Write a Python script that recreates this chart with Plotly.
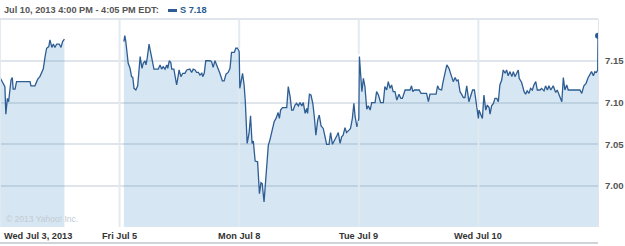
import plotly.graph_objects as go

# ---- data: minutes after the 9:30 open, price of S ----
d1_min = [0, 11, 16, 19, 24, 28, 36, 40, 43, 49, 54, 98, 101, 114, 123, 130, 136, 141, 147, 152,
          159, 163, 169, 174, 179, 185, 193, 199, 204, 210]
d1_val = [7.130, 7.121, 7.119, 7.086, 7.105, 7.101, 7.127, 7.130, 7.116, 7.116, 7.125, 7.125, 7.120,
          7.120, 7.128, 7.131, 7.136, 7.140, 7.155, 7.165, 7.167, 7.175, 7.166, 7.170, 7.166, 7.170,
          7.170, 7.166, 7.173, 7.176]

d2_min = [14, 17, 20, 23, 28, 34, 39, 43, 47, 53, 59, 67, 73, 77, 83, 86, 90, 96, 101, 107,
          112, 126, 132, 137, 142, 148, 154, 157, 162, 167, 170, 177, 181, 186, 191, 194, 200, 206, 213, 219,
          229, 235, 240, 246, 251, 257, 262, 268, 271, 276, 281, 295, 300, 305, 311, 317, 327, 335, 341, 347,
          354, 360, 365, 374, 379, 385, 390]
d2_val = [7.173, 7.180, 7.174, 7.165, 7.147, 7.141, 7.131, 7.130, 7.117, 7.115,
          7.120, 7.155, 7.141, 7.147, 7.150, 7.145, 7.153, 7.170, 7.159, 7.147,
          7.140, 7.140, 7.145, 7.140, 7.143, 7.140, 7.145, 7.141, 7.150, 7.148,
          7.140, 7.140, 7.130, 7.121, 7.132, 7.139, 7.131, 7.135, 7.135, 7.139,
          7.140, 7.136, 7.140, 7.139, 7.136, 7.136, 7.133, 7.135, 7.131, 7.135,
          7.150, 7.150, 7.149, 7.142, 7.150, 7.145, 7.135, 7.126, 7.126, 7.134,
          7.136, 7.141, 7.160, 7.160, 7.165, 7.165, 7.161]

d3_min = [2, 11, 16, 20, 26, 32, 37, 42, 46, 52, 60, 66, 71, 75, 81, 87, 95, 100, 108, 114,
          120, 127, 131, 135, 141, 155, 160, 166, 171, 176, 182, 187, 193, 198, 204, 209, 215, 220, 223, 229,
          234, 240, 245, 250, 256, 261, 267, 274, 280, 285, 293, 298, 304, 312, 318, 323, 329, 334, 339, 345,
          350, 358, 363, 369, 374, 378, 384, 387, 390]
d3_val = [7.117, 7.135, 7.121, 7.101, 7.051, 7.063, 7.084, 7.051, 7.054, 7.030,
          7.029, 6.991, 7.004, 7.003, 6.981, 7.015, 7.049, 7.055, 7.067, 7.077,
          7.081, 7.088, 7.081, 7.091, 7.094, 7.094, 7.119, 7.107, 7.091, 7.091,
          7.097, 7.099, 7.096, 7.100, 7.096, 7.100, 7.087, 7.093, 7.087, 7.110,
          7.109, 7.099, 7.083, 7.061, 7.079, 7.085, 7.072, 7.069, 7.059, 7.050,
          7.050, 7.064, 7.050, 7.055, 7.060, 7.064, 7.051, 7.059, 7.061, 7.070,
          7.064, 7.067, 7.069, 7.081, 7.099, 7.083, 7.071, 7.075, 7.081]

d4_min = [2, 10, 15, 20, 26, 31, 37, 42, 53, 58, 64, 71, 80, 85, 91, 96, 102, 107, 112, 118,
          124, 131, 137, 142, 151, 167, 172, 176, 181, 197, 203, 221, 227, 232, 252, 257, 262, 270, 275, 287,
          294, 303, 308, 314, 319, 324, 330, 335, 341, 346, 352, 359, 366, 371, 377, 382, 386, 390]
d4_val = [7.155, 7.113, 7.129, 7.119, 7.092, 7.096, 7.091, 7.100, 7.100, 7.113,
          7.109, 7.100, 7.100, 7.119, 7.115, 7.125, 7.117, 7.121, 7.113, 7.113,
          7.103, 7.110, 7.105, 7.105, 7.115, 7.115, 7.120, 7.113, 7.115, 7.115,
          7.111, 7.111, 7.101, 7.110, 7.110, 7.120, 7.116, 7.115, 7.125, 7.145,
          7.141, 7.129, 7.125, 7.130, 7.126, 7.127, 7.113, 7.110, 7.106, 7.106,
          7.120, 7.101, 7.109, 7.115, 7.115, 7.101, 7.096, 7.081]

d5_min = [2, 8, 13, 18, 24, 29, 35, 38, 43, 49, 54, 60, 65, 70, 76, 81, 87, 92, 97, 103, 109,
          114, 119, 125, 130, 133, 141, 149, 154, 159, 165, 170, 176, 181, 187, 192, 201, 206, 214, 219, 225,
          230, 236, 244, 252, 257, 264, 272, 277, 282, 288, 293, 331, 337, 344, 351, 358, 364, 369, 375, 380,
          385, 389, 390]
d5_val = [7.091, 7.085, 7.081, 7.109, 7.091, 7.097, 7.094, 7.086, 7.096, 7.099, 7.105,
          7.105, 7.101, 7.121, 7.127, 7.139, 7.135, 7.139, 7.132, 7.137, 7.131,
          7.137, 7.131, 7.135, 7.139, 7.129, 7.124, 7.113, 7.110, 7.114, 7.111,
          7.117, 7.115, 7.121, 7.125, 7.115, 7.115, 7.117, 7.114, 7.120, 7.115,
          7.120, 7.115, 7.120, 7.112, 7.115, 7.109, 7.101, 7.130, 7.115, 7.121,
          7.115, 7.115, 7.111, 7.120, 7.123, 7.130, 7.135, 7.137, 7.132, 7.137,
          7.136, 7.139, 7.180]

day_labels = ["Wed Jul 3, 2013", "Fri Jul 5", "Mon Jul 8", "Tue Jul 9", "Wed Jul 10"]
y_ticks = [7.00, 7.05, 7.10, 7.15]
y_range = [6.951, 7.200]
header_text = "Jul 10, 2013 4:00 PM - 4:05 PM EDT:"
legend_text = "S 7.18"
SESSION = 390  # minutes per regular session

days = [(d1_min, d1_val), (d2_min, d2_val), (d3_min, d3_val), (d4_min, d4_val), (d5_min, d5_val)]

LINE = "#2d5d93"
FILL = "rgba(70,140,195,0.22)"
GRID = "#dfe5ea"
VGRID = "rgba(226,233,239,0.95)"
FONT = "Liberation Sans"
FS = 9.2

fig = go.Figure()

x1 = [0 + m / SESSION for m in d1_min]
fig.add_trace(go.Scatter(x=x1, y=d1_val, mode="lines", line=dict(color=LINE, width=1.3),
                         fill="tozeroy", fillcolor=FILL, hoverinfo="skip"))

xs, ys = [], []
for i, (mins, vals) in enumerate(days[1:], start=1):
    xs += [i + m / SESSION for m in mins]
    ys += vals
fig.add_trace(go.Scatter(x=xs, y=ys, mode="lines", line=dict(color=LINE, width=1.3),
                         fill="tozeroy", fillcolor=FILL, hoverinfo="skip"))

fig.add_trace(go.Scatter(x=[xs[-1]], y=[ys[-1]], mode="markers",
                         marker=dict(color=LINE, size=6), hoverinfo="skip"))

fig.update_layout(
    width=625, height=246,
    margin=dict(l=0, r=27, t=19, b=19),
    paper_bgcolor="white", plot_bgcolor="white",
    showlegend=False,
    xaxis=dict(range=[0, 5], tickvals=[0, 1, 2, 3, 4], showticklabels=False,
               showgrid=False, zeroline=False, showline=False, fixedrange=True),
    yaxis=dict(range=y_range, side="right", tickvals=y_ticks,
               ticktext=[f"{v:.2f}" for v in y_ticks],
               showgrid=True, gridcolor=GRID, gridwidth=2, zeroline=False,
               showline=True, linecolor=GRID, linewidth=1,
               tickfont=dict(family=FONT, size=9.6, color="#555555", weight="bold"),
               ticks="", ticklabelstandoff=4, fixedrange=True),
)

# vertical day separators drawn over the fill, leaving the price line visible
for i in range(5):
    if i in (0, 1):
        segs = [(y_range[0], y_range[1])]
    else:
        a, b = days[i - 1][1][-1], days[i][1][0]
        lo, hi = min(a, b), max(a, b)
        segs = [(y_range[0], lo - 0.003), (hi + 0.003, y_range[1])]
    for y0, y1 in segs:
        fig.add_shape(type="line", xref="x", yref="y", x0=i, x1=i, y0=y0, y1=y1,
                      layer="above", line=dict(color=VGRID, width=2))

# x-axis day labels (first one left-aligned like the original)
for i, lab in enumerate(day_labels):
    fig.add_annotation(x=i, y=0, xref="x", yref="paper", yshift=-9, yanchor="middle",
                       xanchor="left" if i == 0 else "center", xshift=2 if i == 0 else 0,
                       text=f"<b>{lab}</b>", showarrow=False,
                       font=dict(family=FONT, size=FS, color="#333333"))

# header
fig.add_annotation(x=0, y=1, xref="paper", yref="paper", xanchor="left", yanchor="bottom",
                   xshift=2, yshift=2, text=f"<b>{header_text}</b>", showarrow=False,
                   font=dict(family=FONT, size=FS, color="#555555"))
fig.add_annotation(x=0, y=1, xref="paper", yref="paper", xanchor="left", yanchor="bottom",
                   xshift=178, yshift=2, text=f"<b>{legend_text}</b>", showarrow=False,
                   font=dict(family=FONT, size=FS, color="#2a5a8f"))
fig.add_shape(type="rect", xref="paper", yref="paper", xsizemode="pixel", ysizemode="pixel",
              xanchor=0, yanchor=1, x0=168, x1=177, y0=7, y1=10,
              line=dict(width=0), fillcolor=LINE)

# copyright
fig.add_annotation(x=0, y=0, xref="paper", yref="paper", xanchor="left", yanchor="bottom",
                   xshift=4, yshift=1, text="© 2013 Yahoo! Inc.", showarrow=False,
                   font=dict(family=FONT, size=8.5, color="#c3cad2"))

# frame lines: header separator and bottom rule
fig.add_shape(type="line", xref="paper", yref="paper", x0=0, x1=1, y0=1, y1=1,
              line=dict(color=GRID, width=2))
fig.add_shape(type="line", xref="paper", yref="paper", x0=0, x1=1,
              ysizemode="pixel", yanchor=0, y0=-16, y1=-16,
              line=dict(color="#cfd4d9", width=2))

fig.write_html("out.html")
